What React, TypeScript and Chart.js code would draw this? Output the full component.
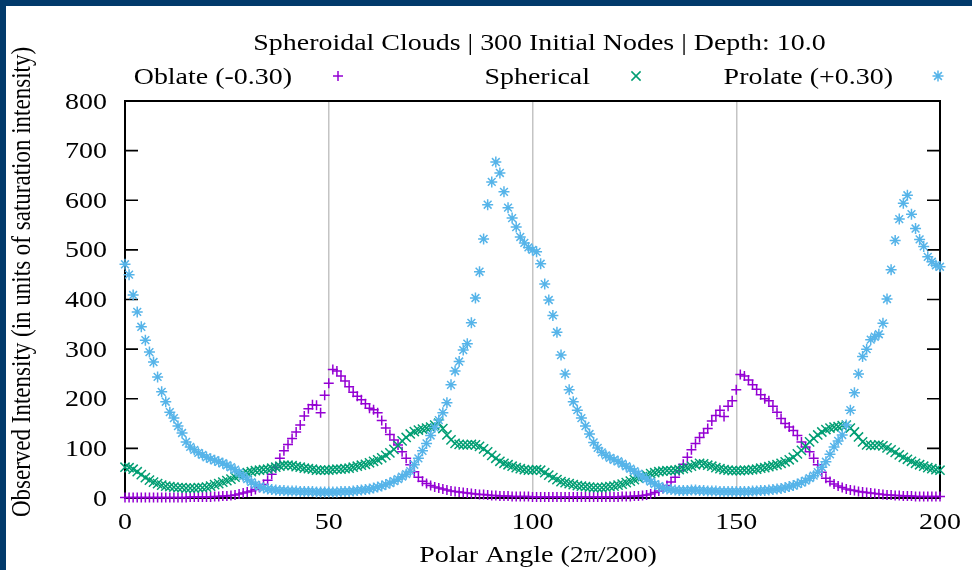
import { useEffect, useRef } from 'react';
import { Chart, registerables } from 'chart.js';

Chart.register(...registerables);

// Polar angle index (units of 2π/200)
const POLAR_ANGLE: number[] = Array.from({ length: 201 }, (_, i) => i);

// Observed intensity, oblate cloud (eccentricity -0.30)
const OBLATE: number[] = [
  1, 1, 1, 1, 1, 1, 1, 1, 1, 1,
  1, 1, 1, 1, 1, 1, 2, 2, 2, 2,
  2, 2, 3, 3, 4, 4, 5, 6, 8, 10,
  12, 14, 17, 21, 27, 36, 48, 62, 80, 95,
  108, 120, 133, 147, 165, 180, 188, 187, 172, 207,
  231, 259, 256, 246, 236, 224, 213, 205, 198, 190,
  181, 178, 172, 156, 141, 128, 117, 107, 93, 80,
  67, 53, 42, 34, 29, 25, 22, 20, 18, 16,
  14, 13, 12, 11, 10, 9, 8, 7, 7, 6,
  5, 5, 4, 4, 4, 3, 3, 3, 3, 3,
  2, 2, 2, 2, 2, 2, 2, 2, 2, 2,
  2, 2, 2, 2, 2, 2, 2, 2, 2, 2,
  2, 2, 3, 3, 3, 4, 4, 5, 6, 8,
  11, 14, 19, 25, 32, 42, 55, 68, 82, 97,
  110, 122, 131, 140, 155, 166, 177, 164, 185, 196,
  218, 249, 246, 238, 228, 219, 208, 200, 196, 185,
  173, 160, 150, 143, 136, 126, 113, 103, 93, 80,
  67, 52, 40, 33, 28, 24, 21, 18, 16, 15,
  13, 12, 11, 10, 9, 8, 7, 6, 6, 5,
  5, 4, 4, 4, 3, 3, 3, 3, 3, 3,
  3,
];

// Observed intensity, spherical cloud
const SPHERICAL: number[] = [
  62, 61, 58, 53, 47, 41, 36, 32, 29, 26,
  24, 23, 22, 21, 21, 20, 20, 20, 21, 21,
  22, 24, 27, 29, 32, 35, 38, 42, 45, 49,
  51, 53, 55, 56, 57, 58, 60, 62, 64, 66,
  66, 65, 63, 62, 60, 59, 58, 56, 56, 56,
  56, 57, 58, 58, 59, 60, 62, 64, 66, 68,
  71, 74, 77, 81, 86, 91, 98, 106, 115, 122,
  129, 134, 137, 139, 141, 143, 147, 151, 140, 127,
  117, 110, 108, 107, 107, 108, 107, 104, 99, 93,
  86, 80, 74, 70, 67, 64, 61, 59, 57, 56,
  56, 57, 56, 51, 46, 41, 37, 33, 31, 29,
  27, 25, 24, 23, 22, 21, 21, 21, 22, 23,
  24, 26, 28, 31, 34, 37, 40, 43, 46, 49,
  51, 53, 54, 55, 55, 56, 57, 59, 61, 64,
  67, 70, 69, 66, 64, 61, 59, 57, 56, 55,
  55, 55, 56, 56, 57, 58, 60, 61, 63, 65,
  67, 70, 73, 77, 82, 89, 96, 104, 113, 120,
  127, 133, 138, 141, 143, 144, 146, 147, 141, 133,
  123, 113, 107, 106, 106, 107, 105, 101, 97, 92,
  87, 82, 78, 74, 70, 67, 64, 61, 59, 57,
  56,
];

// Observed intensity, prolate cloud (eccentricity +0.30)
const PROLATE: number[] = [
  471, 450, 409, 375, 345, 318, 294, 274, 244, 214,
  194, 173, 161, 145, 131, 113, 103, 97, 91, 87,
  82, 79, 76, 73, 70, 66, 62, 57, 51, 44,
  38, 32, 27, 23, 20, 18, 17, 16, 15, 15,
  14, 14, 14, 13, 13, 13, 13, 12, 12, 12,
  12, 12, 12, 13, 13, 13, 14, 15, 16, 17,
  18, 20, 22, 24, 27, 30, 34, 38, 43, 48,
  54, 67, 80, 95, 110, 126, 142, 157, 172, 192,
  228, 256, 275, 298, 311, 353, 403, 456, 522, 591,
  637, 677, 655, 617, 585, 564, 546, 526, 514, 505,
  500, 496, 472, 431, 399, 368, 334, 288, 250, 218,
  194, 177, 161, 145, 129, 112, 101, 92, 86, 81,
  77, 74, 69, 64, 59, 54, 49, 43, 38, 33,
  28, 24, 20, 18, 17, 16, 15, 15, 15, 16,
  16, 15, 15, 14, 14, 14, 13, 13, 13, 13,
  13, 13, 13, 13, 14, 14, 15, 15, 16, 17,
  18, 19, 21, 23, 25, 28, 31, 35, 40, 45,
  52, 62, 73, 88, 103, 115, 127, 147, 177, 212,
  250, 285, 300, 319, 325, 330, 352, 401, 460, 519,
  562, 594, 610, 572, 543, 521, 507, 486, 476, 469,
  466,
];

const Y_TICKS: number[] = [0, 100, 200, 300, 400, 500, 600, 700, 800];
const X_TICKS: number[] = [0, 50, 100, 150, 200];
const X_GRID: number[] = [50, 100, 150];

const TITLE = 'Spheroidal Clouds | 300 Initial Nodes | Depth: 10.0';
const X_LABEL = 'Polar Angle (2\u03c0/200)';
const Y_LABEL = 'Observed Intensity (in units of saturation intensity)';

const SERIES = [
  { label: 'Oblate (-0.30)', values: OBLATE, color: '#9400d3', style: 'cross', radius: 5, order: 3 },
  { label: 'Spherical', values: SPHERICAL, color: '#009e73', style: 'crossRot', radius: 6.5, order: 2 },
  { label: 'Prolate (+0.30)', values: PROLATE, color: '#56b4e9', style: 'star', radius: 5.5, order: 1 },
];

const FONT = '23px "Liberation Serif", "Times New Roman", serif';
const STRETCH = 1.215;
const FRAME = '#023a6b';

function drawText(
  ctx: CanvasRenderingContext2D,
  text: string,
  x: number,
  y: number,
  align: CanvasTextAlign,
) {
  ctx.save();
  ctx.translate(x, y);
  ctx.scale(STRETCH, 1);
  ctx.textAlign = align;
  ctx.textBaseline = 'alphabetic';
  ctx.fillText(text, 0, 0);
  ctx.restore();
}

function drawMarker(ctx: CanvasRenderingContext2D, style: string, x: number, y: number, r: number) {
  ctx.beginPath();
  if (style === 'cross' || style === 'star') {
    ctx.moveTo(x - r, y);
    ctx.lineTo(x + r, y);
    ctx.moveTo(x, y - r);
    ctx.lineTo(x, y + r);
  }
  if (style === 'crossRot' || style === 'star') {
    const d = r * Math.SQRT1_2;
    ctx.moveTo(x - d, y - d);
    ctx.lineTo(x + d, y + d);
    ctx.moveTo(x - d, y + d);
    ctx.lineTo(x + d, y - d);
  }
  ctx.stroke();
}

const decorations = {
  id: 'plotDecorations',
  beforeDraw(chart: Chart) {
    const { ctx, width, height } = chart;
    ctx.save();
    ctx.fillStyle = '#ffffff';
    ctx.fillRect(0, 0, width, height);
    ctx.fillStyle = FRAME;
    ctx.fillRect(0, 0, width, 6);
    ctx.fillRect(0, 0, 6, height);
    ctx.restore();
  },
  beforeDatasetsDraw(chart: Chart) {
    const { ctx, chartArea } = chart;
    const y = chart.scales.y;
    ctx.save();
    ctx.strokeStyle = '#000000';
    ctx.lineWidth = 1.6;
    for (const t of Y_TICKS) {
      const py = y.getPixelForValue(t);
      ctx.beginPath();
      ctx.moveTo(chartArea.left, py);
      ctx.lineTo(chartArea.left + 13, py);
      ctx.moveTo(chartArea.right, py);
      ctx.lineTo(chartArea.right - 13, py);
      ctx.stroke();
    }
    ctx.lineWidth = 2;
    ctx.strokeRect(chartArea.left, chartArea.top, chartArea.right - chartArea.left, chartArea.bottom - chartArea.top);
    ctx.restore();
  },
  afterDraw(chart: Chart) {
    const { ctx, chartArea } = chart;
    const x = chart.scales.x;
    const y = chart.scales.y;
    ctx.save();
    ctx.font = FONT;
    ctx.fillStyle = '#000000';

    drawText(ctx, TITLE, 539.5, 50, 'center');

    const legendTextRight = [292, 590, 893];
    const legendMarkerX = [338, 636, 938];
    SERIES.forEach((s, i) => {
      ctx.fillStyle = '#000000';
      drawText(ctx, s.label, legendTextRight[i], 84, 'right');
      ctx.strokeStyle = s.color;
      ctx.lineWidth = 1.5;
      drawMarker(ctx, s.style, legendMarkerX[i], 76, s.radius);
    });

    ctx.fillStyle = '#000000';
    for (const t of Y_TICKS) {
      drawText(ctx, String(t), chartArea.left - 18, y.getPixelForValue(t) + 7.5, 'right');
    }
    for (const t of X_TICKS) {
      drawText(ctx, String(t), x.getPixelForValue(t), 529, 'center');
    }
    drawText(ctx, X_LABEL, 538, 562, 'center');

    ctx.save();
    ctx.translate(30, 282);
    ctx.rotate(-Math.PI / 2);
    ctx.scale(1, STRETCH);
    ctx.textAlign = 'center';
    ctx.textBaseline = 'alphabetic';
    ctx.fillText(Y_LABEL, 0, 0);
    ctx.restore();

    ctx.restore();
  },
};

export default function App() {
  const canvasRef = useRef<HTMLCanvasElement>(null);

  useEffect(() => {
    const canvas = canvasRef.current;
    if (!canvas) return;
    const chart = new Chart(canvas, {
      type: 'scatter',
      data: {
        datasets: SERIES.map((s) => ({
          label: s.label,
          data: POLAR_ANGLE.map((a, i) => ({ x: a, y: s.values[i] })),
          showLine: false,
          pointStyle: s.style as any,
          pointRadius: s.radius,
          pointHoverRadius: s.radius,
          pointBorderWidth: 1.5,
          borderColor: s.color,
          backgroundColor: s.color,
          order: s.order,
          clip: false as any,
        })),
      },
      options: {
        animation: false,
        responsive: false,
        events: [],
        layout: { padding: { left: 125, top: 101, right: 32, bottom: 72 } },
        plugins: {
          legend: { display: false },
          title: { display: false },
          tooltip: { enabled: false },
        },
        scales: {
          x: {
            type: 'linear',
            min: 0,
            max: 200,
            ticks: { display: false, stepSize: 50 },
            grid: {
              drawTicks: false,
              lineWidth: 1.5,
              color: (c: any) => (X_GRID.includes(c.tick?.value) ? '#c4c4c4' : 'rgba(0,0,0,0)'),
            },
            border: { display: false },
            afterFit: (s: any) => {
              s.height = 0;
            },
          },
          y: {
            type: 'linear',
            min: 0,
            max: 800,
            ticks: { display: false, stepSize: 100 },
            grid: { display: false },
            border: { display: false },
            afterFit: (s: any) => {
              s.width = 0;
            },
          },
        },
      },
      plugins: [decorations],
    });
    return () => chart.destroy();
  }, []);

  return (
    <div style={{ position: 'fixed', left: 0, top: 0, width: 972, height: 570, background: '#ffffff' }}>
      <canvas ref={canvasRef} width={972} height={570} style={{ display: 'block', width: 972, height: 570 }} />
    </div>
  );
}
